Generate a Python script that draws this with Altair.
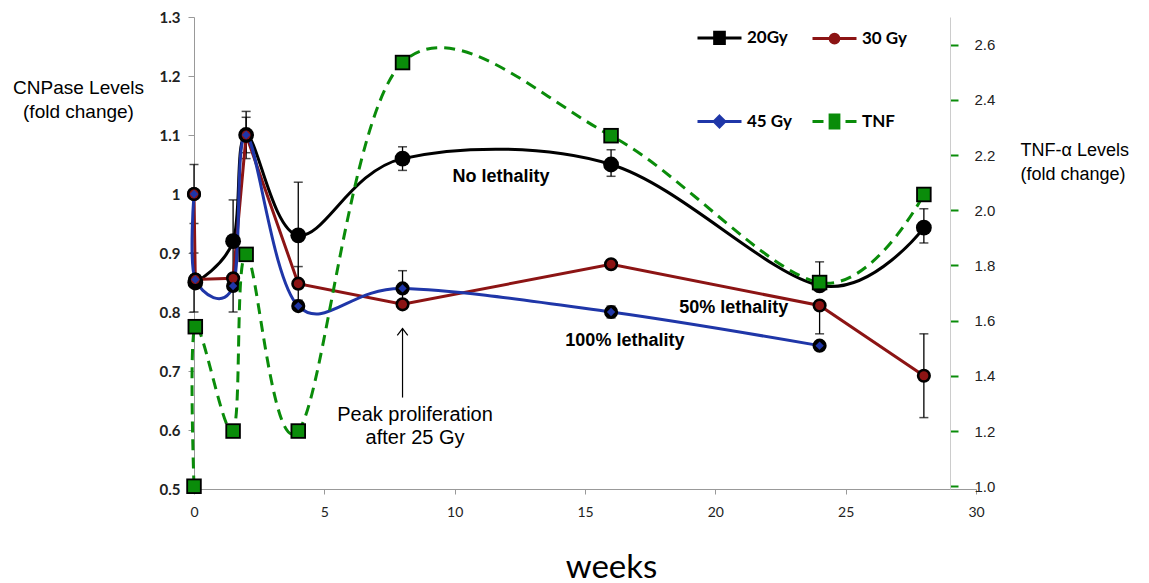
import altair as alt
import pandas as pd

# ---------------- data ----------------
series_names = ["20Gy", "30 Gy", "45 Gy", "TNF"]
series_colors = ["#000000", "#8C1414", "#1F36A8", "#0A8C0A"]

weeks_20 = [0.05, 1.5, 2, 4, 8, 16, 24, 28]
cnp_20 = [0.85, 0.92, 1.10, 0.93, 1.06, 1.05, 0.845, 0.943]

weeks_30 = [0, 0.05, 1.5, 2, 4, 8, 16, 24, 28]
cnp_30 = [1.0, 0.855, 0.857, 1.10, 0.848, 0.813, 0.881, 0.811, 0.692]

weeks_45 = [0, 0.05, 1.5, 2, 4, 8, 16, 24]
cnp_45 = [1.0, 0.855, 0.844, 1.10, 0.81, 0.84, 0.80, 0.743]

weeks_tnf = [0, 0.05, 1.5, 2, 4, 8, 16, 24, 28]
tnf_vals = [1.0, 1.578, 1.2, 1.84, 1.2, 2.535, 2.27, 1.738, 2.057]

err_weeks = [0, 0, 1.5, 1.5, 2, 2, 4, 4, 8, 8, 16, 16, 24, 24, 28, 28]
err_low = [0.95, 0.80, 0.85, 0.80, 1.06, 1.07, 0.84, 0.82, 1.04, 0.81, 1.03, 0.79, 0.845, 0.763, 0.917, 0.621]
err_high = [1.05, 0.90, 0.99, 0.86, 1.14, 1.13, 1.02, 0.877, 1.08, 0.87, 1.075, 0.81, 0.885, 0.811, 0.975, 0.763]

label_text = ["No lethality", "50% lethality", "100% lethality"]
label_week = [11.78, 20.71, 16.53]
label_value = [1.028, 0.807, 0.751]

note_text = ["Peak proliferation", "after 25 Gy"]
note_week = [8.48, 8.48]
note_value = [0.625, 0.586]

arrow_week = [8]
arrow_from = [0.655]
arrow_to = [0.772]

x_ticks = [0, 5, 10, 15, 20, 25, 30]
left_ticks = [0.5, 0.6, 0.7, 0.8, 0.9, 1.0, 1.1, 1.2, 1.3]
right_ticks = [1.0, 1.2, 1.4, 1.6, 1.8, 2.0, 2.2, 2.4, 2.6]

# legend symbols: line + marker
legend_paths = [
    "M-1,0H1M-0.22,-0.26H0.22V0.26H-0.22Z",
    "M-1,0H1M0.2,0A0.2,0.2 0 1 1 -0.2,0A0.2,0.2 0 1 1 0.2,0Z",
    "M-1,0H1M0,-0.24L0.24,0L0,0.24L-0.24,0Z",
    "M-1,0H-0.5M0.5,0H1M-0.2,-0.3H0.2V0.3H-0.2Z",
]

# ---------------- tables ----------------
df20 = pd.DataFrame({"week": weeks_20, "value": cnp_20})
df30 = pd.DataFrame({"week": weeks_30, "value": cnp_30})
df45 = pd.DataFrame({"week": weeks_45, "value": cnp_45})
dftnf = pd.DataFrame({"week": weeks_tnf, "value": tnf_vals})
dferr = pd.DataFrame({"week": err_weeks, "lo": err_low, "hi": err_high})
dfcap = pd.DataFrame({"week": err_weeks + err_weeks, "value": err_low + err_high})
dflab = pd.DataFrame({"week": label_week, "value": label_value, "text": label_text})
dfnote = pd.DataFrame({"week": note_week, "value": note_value, "text": note_text})
dfarrow = pd.DataFrame({"week": arrow_week, "lo": arrow_from, "hi": arrow_to, "value": arrow_to})
dfleg = pd.DataFrame({"week": [0.0] * 4, "value": [1.0] * 4, "series": series_names})

# ---------------- axes / scales ----------------
x_axis = alt.Axis(
    values=x_ticks, grid=False, title="weeks",
    titleFont="Lato", titleFontSize=33, titleFontWeight="normal", titleColor="black",
    titleX=417, titleY=78, titleBaseline="middle", titleAlign="center",
    labelFont="Lato", labelFontSize=14, labelColor="#222", labelPadding=11,
    tickSize=5, tickColor="#999", domainColor="#999", labelFlush=False,
)
left_axis = alt.Axis(
    values=left_ticks, format="~g", orient="left", grid=False,
    labelFont="Lato", labelFontSize=15, labelFontWeight="bold", labelColor="#222",
    labelPadding=8, tickSize=6, tickColor="#999", domainColor="#999",
    title=["CNPase Levels", "(fold change)"], titleAngle=0, titleX=-116, titleY=61,
    titleAlign="center", titleBaseline="top", titleFont="Liberation Sans",
    titleFontSize=19, titleFontWeight="normal", titleColor="black", titleLineHeight=24,
)
right_axis = alt.Axis(
    values=right_ticks, format=".1f", orient="right", grid=False, offset=-26,
    labelFont="Liberation Sans", labelFontSize=15, labelColor="#222", labelPadding=16,
    tickSize=8, tickWidth=2, tickColor="#0A8C0A", domainColor="#cccccc",
    title=["TNF-\u03b1 Levels", "(fold change)"], titleAngle=0, titleX=70, titleY=124,
    titleAlign="left", titleBaseline="top", titleFont="Liberation Sans",
    titleFontSize=18, titleFontWeight="normal", titleColor="black", titleLineHeight=24,
)

x_scale = alt.Scale(domain=[0, 30], nice=False, zero=False)
left_scale = alt.Scale(domain=[0.5, 1.3], nice=False, zero=False)
right_scale = alt.Scale(domain=[0.99, 2.7], nice=False, zero=False)


def X():
    return alt.X("week:Q", scale=x_scale, axis=x_axis)


def YL(field="value"):
    return alt.Y(f"{field}:Q", scale=left_scale, axis=left_axis)


def YR(field="value"):
    return alt.Y(f"{field}:Q", scale=right_scale, axis=right_axis)


# ---------------- left (CNPase) layers ----------------
line20 = alt.Chart(df20).mark_line(color=series_colors[0], strokeWidth=3, interpolate="cardinal").encode(x=X(), y=YL())
line30 = alt.Chart(df30).mark_line(color=series_colors[1], strokeWidth=3).encode(x=X(), y=YL())
line45 = alt.Chart(df45).mark_line(color=series_colors[2], strokeWidth=3, interpolate="cardinal").encode(x=X(), y=YL())

err_rules = alt.Chart(dferr).mark_rule(color="black", strokeWidth=1.3).encode(x=X(), y=YL("lo"), y2=alt.Y2("hi:Q"))
err_caps = alt.Chart(dfcap).mark_tick(orient="horizontal", size=9, thickness=1.5, color="black").encode(x=X(), y=YL())

bg20 = alt.Chart(df20).mark_point(shape="circle", filled=True, color="black", size=250, opacity=1).encode(x=X(), y=YL())
bg30 = alt.Chart(df30).mark_point(shape="circle", filled=True, color="black", size=200, opacity=1).encode(x=X(), y=YL())
bg45 = alt.Chart(df45).mark_point(shape="circle", filled=True, color="black", size=200, opacity=1).encode(x=X(), y=YL())
pt30 = alt.Chart(df30).mark_point(shape="circle", filled=True, color=series_colors[1], size=80, opacity=1).encode(x=X(), y=YL())
pt45 = alt.Chart(df45).mark_point(shape="diamond", filled=True, color=series_colors[2], size=70, opacity=1).encode(x=X(), y=YL())

labels = alt.Chart(dflab).mark_text(font="Liberation Sans", fontSize=18, fontWeight="bold", color="black",
                                    align="center", baseline="middle").encode(x=X(), y=YL(), text="text:N")
notes = alt.Chart(dfnote).mark_text(font="Liberation Sans", fontSize=20, color="black",
                                    align="center", baseline="middle").encode(x=X(), y=YL(), text="text:N")
arrow_line = alt.Chart(dfarrow).mark_rule(color="black", strokeWidth=1.2).encode(x=X(), y=YL("lo"), y2=alt.Y2("hi:Q"))
arrow_head = alt.Chart(dfarrow).mark_point(shape="M-1,1.3L0,0L1,1.3", filled=False, color="black",
                                           size=110, strokeWidth=1.2, opacity=1).encode(x=X(), y=YL())

legend_layer = alt.Chart(dfleg).transform_filter("false").mark_point(filled=True, strokeWidth=3, opacity=1).encode(
    x=X(), y=YL(),
    fill=alt.Fill("series:N", scale=alt.Scale(domain=series_names, range=series_colors),
                  legend=alt.Legend(
                      title=None, orient="none", legendX=502, legendY=-3, columns=2,
                      direction="horizontal",
                      symbolSize=1936, symbolStrokeWidth=3, labelFont="Lato", labelFontSize=17,
                      labelFontWeight="bold", labelColor="black", labelOffset=4,
                      rowPadding=48, columnPadding=14, padding=0, symbolOpacity=1,
                  )),
    stroke=alt.Stroke("series:N", scale=alt.Scale(domain=series_names, range=series_colors)),
    shape=alt.Shape("series:N", scale=alt.Scale(domain=series_names, range=legend_paths)),
)

left = alt.layer(err_rules, err_caps, line20, line30, line45, bg20, bg30, bg45, pt30, pt45,
                 arrow_line, arrow_head, labels, notes, legend_layer)

# ---------------- right (TNF) layers ----------------
linetnf = alt.Chart(dftnf).mark_line(color=series_colors[3], strokeWidth=3, strokeDash=[11, 7],
                                     interpolate="cardinal").encode(x=X(), y=YR())
bgtnf = alt.Chart(dftnf).mark_point(shape="square", filled=True, color="black", size=240, opacity=1).encode(x=X(), y=YR())
pttnf = alt.Chart(dftnf).mark_point(shape="square", filled=True, color=series_colors[3], size=140, opacity=1).encode(x=X(), y=YR())

right = alt.layer(linetnf, bgtnf, pttnf)

chart = alt.layer(left, right).resolve_scale(y="independent").properties(
    width=782, height=472,
    autosize=alt.AutoSizeParams(type="none"),
    padding={"left": 186, "top": 9, "right": 160, "bottom": 94},
    background="white",
).configure_view(stroke=None)

chart.save("out.html", embed_options={"renderer": "svg", "actions": False})
